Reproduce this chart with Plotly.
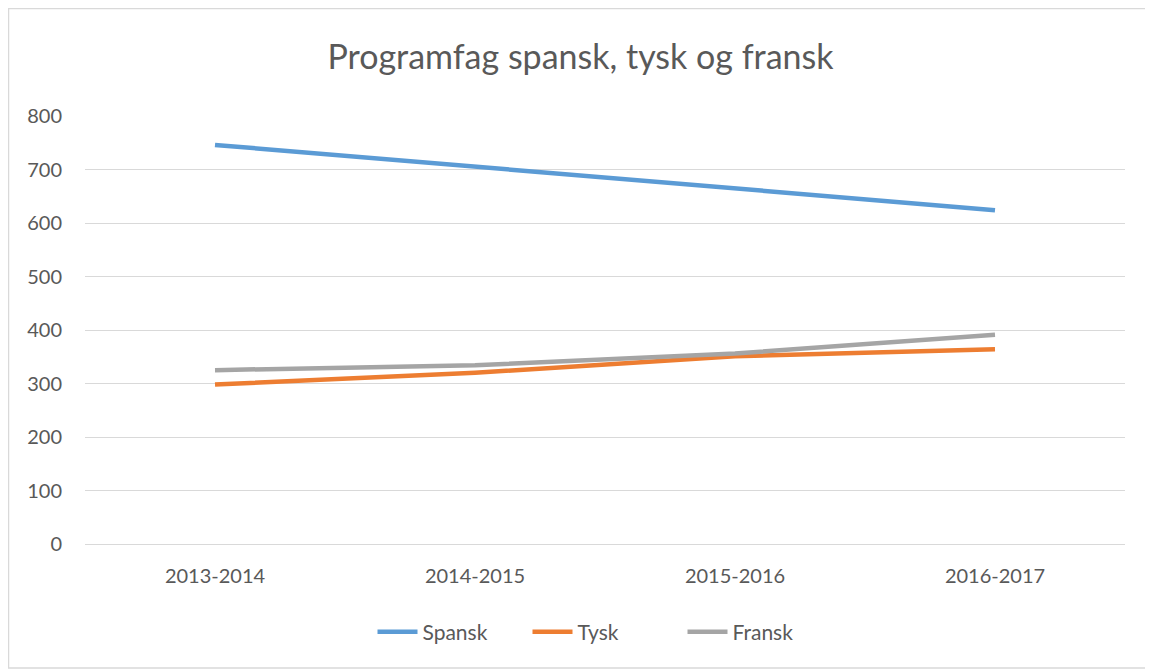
import plotly.graph_objects as go

categories = ["2013-2014", "2014-2015", "2015-2016", "2016-2017"]
spansk = [746, 705, 664, 624]
tysk = [298, 320, 351, 364]
fransk = [325, 334, 356, 391]
y_ticks = [0, 100, 200, 300, 400, 500, 600, 700, 800]

# page body has an 8px margin, so the figure starts at (8, 8)
OFF = 8
W, H = 1153 - OFF, 671 - OFF
L, R, T, B = 85 - OFF, 28, 116 - OFF, 127

fig = go.Figure()
for name, vals, col in [("Spansk", spansk, "#5B9BD5"),
                        ("Tysk", tysk, "#ED7D31"),
                        ("Fransk", fransk, "#A5A5A5")]:
    fig.add_trace(go.Scatter(x=categories, y=vals, name=name, mode="lines",
                             line=dict(color=col, width=4.5)))

pw = W - L - R
ph = H - T - B
def px(x):
    return (x - OFF - L) / pw
def py(y):
    return (H - B - (y - OFF)) / ph

FONT = "Lato"
fig.update_layout(
    width=W, height=H,
    margin=dict(l=L, r=R, t=T, b=B),
    paper_bgcolor="white", plot_bgcolor="white",
    font=dict(family=FONT, color="#595959", size=20),
    title=dict(text="Programfag spansk, tysk og fransk", x=0.5, xanchor="center",
               y=1 - (57 - OFF) / H, yanchor="middle",
               font=dict(family=FONT, size=34, color="#595959")),
    xaxis=dict(type="category", range=[-0.5, 3.5], showgrid=False,
               showline=True, linecolor="#D9D9D9", linewidth=1, ticks="",
               tickfont=dict(size=20, color="#595959"), ticklabelstandoff=14),
    yaxis=dict(range=[0, 800], tickvals=y_ticks, showgrid=True, gridcolor="#D9D9D9",
               gridwidth=1, zeroline=False, showline=False, ticks="",
               tickfont=dict(size=20, color="#595959"), ticklabelstandoff=22),
    legend=dict(orientation="h", x=0.5, xanchor="center", y=py(632), yanchor="middle",
                font=dict(size=21, color="#595959"), itemwidth=40,
                entrywidth=100, entrywidthmode="pixels"),
    showlegend=True,
    shapes=[dict(type="rect", xref="paper", yref="paper",
                 x0=px(8.5), x1=px(1150), y0=py(668), y1=py(8.5),
                 line=dict(color="#D9D9D9", width=1.5), fillcolor="rgba(0,0,0,0)",
                 layer="below")],
)

fig.write_html("out.html")
